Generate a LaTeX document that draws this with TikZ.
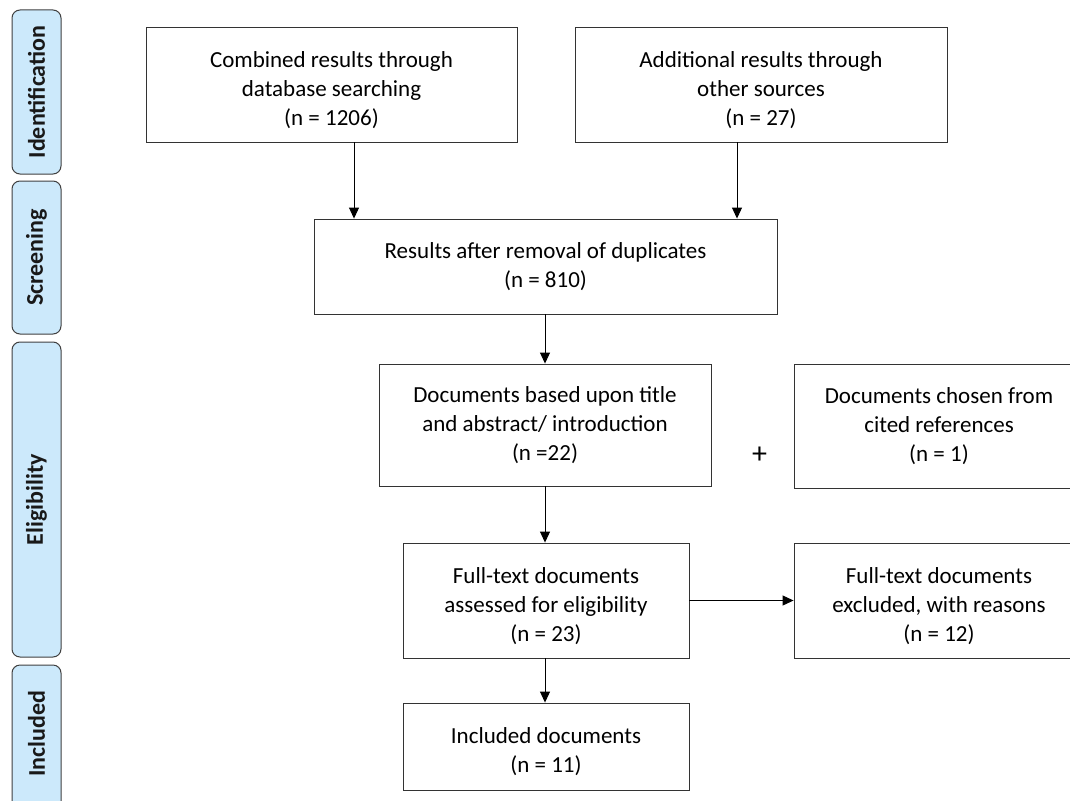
\documentclass[tikz,border=0pt]{standalone}
\usepackage{fontspec}
\setmainfont{Carlito}
\usetikzlibrary{arrows.meta}
\definecolor{phasefill}{HTML}{CCE9FB}
\definecolor{phaseline}{HTML}{404040}
% strut that pushes a box's text a little lower
\newcommand{\lowerstrut}{\rule{0pt}{27pt}}
\tikzset{
  stage/.style={draw=black!80, line width=0.9pt, fill=white, align=center,
    font=\fontsize{23}{29}\selectfont, inner sep=0pt},
  phase/.style={draw=phaseline, line width=1pt, fill=phasefill, rounded corners=8pt},
  phaselabel/.style={rotate=90, font=\fontsize{24}{28}\selectfont\bfseries, text=black!90},
  arr/.style={line width=1pt, -{Triangle[length=11pt,width=10pt]}},
}
\begin{document}
\begin{tikzpicture}[x=1pt,y=-1pt]
\useasboundingbox (0,0) rectangle (1070,800);
\clip (0,0) rectangle (1070,800);

% phase bars on the left
\draw[phase] (12,10) rectangle (61,174);
\node[phaselabel] (lid) at (36.5,92) {Identification};
\draw[phase] (12,181) rectangle (61,334);
\node[phaselabel] (lsc) at (36.5,257.5) {Screening};
\draw[phase] (12,342) rectangle (61,657);
\node[phaselabel] (lel) at (36.5,499.5) {Eligibility};
\draw[phase] (12,665) rectangle (61,830);
\node[phaselabel] (lin) at (36.5,734) {Included};

% flow boxes
\node[stage, minimum width=371, minimum height=115] (comb) at (331.5,84.5)
  {\lowerstrut Combined results through\\database searching\\(n = 1206)};
\node[stage, minimum width=372, minimum height=115] (add) at (761,84.5)
  {\lowerstrut Additional results through\\other sources\\(n = 27)};
\node[stage, minimum width=463, minimum height=95] (res) at (545.5,266.5)
  {Results after removal of duplicates\\(n = 810)};
\node[stage, minimum width=332, minimum height=122] (doc) at (545,425)
  {Documents based upon title\\and abstract/ introduction\\(n =22)};
\node[stage, minimum width=290, minimum height=124] (cited) at (939,426)
  {Documents chosen from\\cited references\\(n = 1)};
\node[stage, minimum width=286, minimum height=115] (full) at (546,600.5)
  {\lowerstrut Full-text documents\\assessed for eligibility\\(n = 23)};
\node[stage, minimum width=290, minimum height=115] (excl) at (939,600.5)
  {\lowerstrut Full-text documents\\excluded, with reasons\\(n = 12)};
\node[stage, minimum width=286, minimum height=87] (incl) at (546,746.5)
  {\lowerstrut Included documents\\(n = 11)};
\node[font=\fontsize{30}{30}\selectfont] (plus) at (759.5,455) {+};

% connectors
\draw[arr] ([xshift=22.5]comb.south) -- ([xshift=22.5]comb.south |- res.north);
\draw[arr] ([xshift=-24]add.south) -- ([xshift=-24]add.south |- res.north);
\draw[arr] (res.south -| doc.south) -- (doc.north);
\draw[arr] (doc.south) -- (doc.south |- full.north);
\draw[arr] (full.south -| doc.south) -- (doc.south |- incl.north);
\draw[arr] (full.east) -- (excl.west);
\end{tikzpicture}
\end{document}
